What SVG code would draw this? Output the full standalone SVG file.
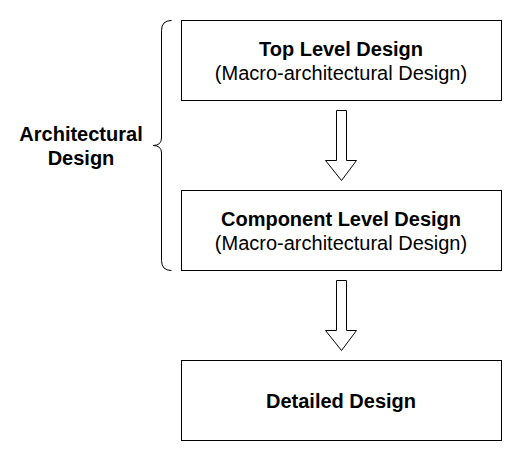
<svg xmlns="http://www.w3.org/2000/svg" width="522" height="461" viewBox="0 0 522 461">
<style>
.box{fill:#fff;stroke:#000;stroke-width:1}
.t{font-family:"Liberation Sans",Arial,sans-serif;font-size:20px;fill:#000;text-anchor:middle}
.b{font-weight:bold}
.arr{fill:#fff;stroke:#000;stroke-width:1;stroke-linejoin:miter}
</style>
<rect width="522" height="461" fill="#fff"/>
<g id="top-level">
<rect class="box" x="181.5" y="20.5" width="320" height="80"/>
<text class="t b" x="341" y="56">Top Level Design</text>
<text class="t" x="341" y="80">(Macro-architectural Design)</text>
</g>
<g id="component-level">
<rect class="box" x="181.5" y="190.5" width="320" height="80"/>
<text class="t b" x="341" y="226">Component Level Design</text>
<text class="t" x="341" y="250">(Macro-architectural Design)</text>
</g>
<g id="detailed">
<rect class="box" x="181.5" y="360.5" width="320" height="80"/>
<text class="t b" x="341" y="408">Detailed Design</text>
</g>
<g id="architectural">
<path d="M171.5,20.5 Q161.5,20.5 161.5,30.5 L161.5,138 Q161.5,145.5 153,145.5 Q161.5,145.5 161.5,153 L161.5,260.5 Q161.5,270.5 171.5,270.5" fill="none" stroke="#000" stroke-width="1"/>
<text class="t b" x="81" y="141">Architectural</text>
<text class="t b" x="81" y="165">Design</text>
</g>
<g id="connectors">
<path class="arr" d="M336.5,110.5 L346.5,110.5 L346.5,160.5 L356.5,160.5 L341.5,180.5 L325.5,160.5 L336.5,160.5 Z"/>
<path class="arr" d="M336.5,280.5 L346.5,280.5 L346.5,330.5 L356.5,330.5 L341.5,350.5 L325.5,330.5 L336.5,330.5 Z"/>
</g>
</svg>
